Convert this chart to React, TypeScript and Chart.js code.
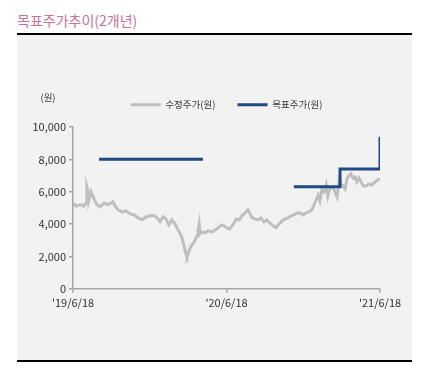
import React, { useEffect, useRef } from "react";
import { Chart, registerables } from "chart.js";

Chart.register(...registerables);

const title = "목표주가추이(2개년)";
const unitLabel = "(원)";
const seriesNames = ["수정주가(원)", "목표주가(원)"];

const xTickDays = [0, 365, 730];
const xTickLabels = ["'19/6/18", "'20/6/18", "'21/6/18"];
const yTicks = [0, 2000, 4000, 6000, 8000, 10000];

// days since 2019-06-18
const priceDays = [
  0, 7, 17, 26, 31, 33, 36, 38, 43, 48, 52, 57, 64, 74, 83, 95, 100, 107, 117, 126,
  136, 145, 155, 164, 174, 183, 195, 202, 207, 214, 221, 228, 235, 243, 247, 254, 259, 264, 269, 271,
  276, 281, 288, 295, 297, 300, 302, 307, 314, 321, 331, 338, 345, 352, 359, 366, 373, 380, 388, 395,
  402, 409, 416, 421, 426, 433, 440, 447, 454, 461, 468, 476, 483, 490, 497, 504, 511, 518, 526, 533,
  540, 547, 554, 561, 568, 573, 578, 583, 587, 592, 597, 602, 606, 611, 616, 621, 625, 628, 633, 637,
  642, 647, 652, 656, 661, 666, 671, 675, 680, 685, 690, 697, 704, 711, 718, 725, 730,
];
const priceValues = [
  5300, 5120, 5190, 5120, 5300, 6300, 6000, 5500, 6000, 5680, 5430, 5190, 5060, 5300, 5190, 5370, 5120, 4880, 4750, 4810,
  4630, 4570, 4380, 4260, 4440, 4510, 4510, 4320, 4140, 4440, 4320, 3950, 4260, 4010, 3770, 3460, 3150, 2650, 2100, 1980,
  2350, 2650, 2900, 3270, 3580, 4010, 3400, 3520, 3460, 3580, 3520, 3640, 3770, 3950, 3890, 3770, 3700, 3950, 4320, 4260,
  4510, 4690, 4880, 4630, 4380, 4320, 4260, 4380, 4140, 4260, 4070, 3890, 3770, 4010, 4200, 4320, 4380, 4510, 4570, 4690,
  4690, 4570, 4690, 4750, 4880, 5190, 5490, 5800, 5430, 6110, 5990, 6420, 5740, 6230, 6300, 6110, 5860, 5680, 6730, 6480,
  6360, 6170, 6850, 6980, 7100, 6850, 6910, 6610, 6850, 6610, 6360, 6360, 6480, 6420, 6610, 6730, 6790,
];

const targetDays = [62, 309, 310, 525, 635, 635, 730, 730];
const targetValues = [8000, 8000, null, 6300, 6300, 7400, 7400, 9400];

const GRAY = "#bfbfbf";
const NAVY = "#1f4a82";
const AXIS = "#a6a6a6";
const TICK_FONT = "'Liberation Sans Narrow', 'Noto Sans CJK KR', sans-serif";

export default function App() {
  const ref = useRef<HTMLCanvasElement | null>(null);

  useEffect(() => {
    if (!ref.current) return;
    const unitPlugin = {
      id: "unitLabel",
      beforeInit(chart: any) {
        const legend = chart.legend;
        if (legend && !legend.__patched) {
          const orig = legend.fit;
          legend.fit = function () {
            orig.call(this);
            this.height += 7.5;
          };
          legend.__patched = true;
        }
      },
      afterDraw(chart: any) {
        const { ctx, chartArea } = chart;
        ctx.save();
        ctx.font = `9.5px ${TICK_FONT}`;
        ctx.fillStyle = "#333";
        ctx.textAlign = "center";
        ctx.textBaseline = "middle";
        ctx.fillText(unitLabel, chartArea.left - 25, chartArea.top - 30);
        ctx.restore();
      },
    };

    const chart = new Chart(ref.current, {
      type: "line",
      data: {
        datasets: [
          {
            label: seriesNames[0],
            data: priceDays.map((d, i) => ({ x: d, y: priceValues[i] })),
            borderColor: GRAY,
            backgroundColor: GRAY,
            borderWidth: 3,
            pointRadius: 0,
            tension: 0,
            order: 1,
          },
          {
            label: seriesNames[1],
            data: targetDays.map((d, i) => ({ x: d, y: targetValues[i] as any })),
            borderColor: NAVY,
            backgroundColor: NAVY,
            borderWidth: 3,
            pointRadius: 0,
            tension: 0,
            order: 0,
            spanGaps: false,
          },
        ],
      },
      options: {
        animation: false,
        responsive: false,
        layout: { padding: { left: 16, right: 32, top: 43, bottom: 48 } },
        plugins: {
          tooltip: { enabled: false },
          legend: {
            position: "top",
            fullSize: false,
            labels: {
              boxWidth: 30,
              boxHeight: 3,
              padding: 22,
              color: "#333",
              font: { size: 9.5, family: TICK_FONT },
              generateLabels(chart: any) {
                return chart.data.datasets.map((ds: any, i: number) => ({
                  text: ds.label,
                  fillStyle: ds.borderColor,
                  strokeStyle: ds.borderColor,
                  lineWidth: 0,
                  hidden: false,
                  datasetIndex: i,
                  fontColor: "#333",
                }));
              },
            },
          },
        },
        scales: {
          x: {
            type: "linear",
            min: xTickDays[0],
            max: xTickDays[xTickDays.length - 1],
            afterBuildTicks(scale: any) {
              scale.ticks = xTickDays.map((v) => ({ value: v }));
            },
            ticks: {
              autoSkip: false,
              maxRotation: 0,
              padding: 3,
              color: "#333",
              font: { size: 11, family: TICK_FONT },
              callback(v: any) {
                const idx = xTickDays.indexOf(Number(v));
                return idx >= 0 ? xTickLabels[idx] : "";
              },
            },
            grid: { display: true, drawOnChartArea: false, drawTicks: true, tickLength: 4, color: AXIS, lineWidth: 1.5 },
            border: { display: true, color: AXIS, width: 1.5 },
          },
          y: {
            min: yTicks[0],
            max: yTicks[yTicks.length - 1],
            afterFit(scale: any) {
              scale.width = 40;
            },
            afterBuildTicks(scale: any) {
              scale.ticks = yTicks.map((v) => ({ value: v }));
            },
            ticks: {
              padding: 3,
              color: "#333",
              font: { size: 11, family: TICK_FONT },
              callback(v: any) {
                return Number(v).toLocaleString("en-US");
              },
            },
            grid: { display: true, drawOnChartArea: false, drawTicks: true, tickLength: 4, color: AXIS, lineWidth: 1.5 },
            border: { display: true, color: AXIS, width: 1.5 },
          },
        },
      },
      plugins: [unitPlugin],
    } as any);
    return () => chart.destroy();
  }, []);

  return (
    <div style={{ marginLeft: 9, width: 395, fontFamily: "'Noto Sans CJK KR', sans-serif" }}>
      <div
        style={{
          height: 25,
          lineHeight: "25px",
          fontSize: 14,
          color: "#c9709c",
          borderBottom: "2px solid #000",
          whiteSpace: "nowrap",
        }}
      >
        {title}
      </div>
      <div style={{ position: "relative", height: 325, background: "#f2f2f2", borderBottom: "2px solid #000" }}>
        <canvas ref={ref} width={395} height={325} style={{ display: "block" }} />
      </div>
    </div>
  );
}
